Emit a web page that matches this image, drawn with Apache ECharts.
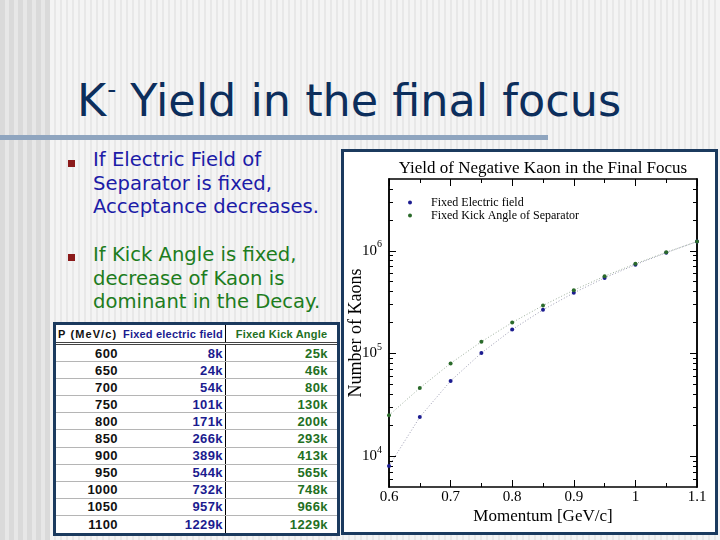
<!DOCTYPE html>
<html>
<head>
<meta charset="utf-8">
<script src="https://cdn.jsdelivr.net/npm/echarts@6.0.0/dist/echarts.min.js"></script>
<style>
html,body{margin:0;padding:0;}
body{width:720px;height:540px;position:relative;overflow:hidden;
  background:repeating-linear-gradient(90deg,#e8e8e8 0px,#e8e8e8 2px,#f4f4f4 2px,#f4f4f4 6px);
  font-family:'DejaVu Sans',Verdana,sans-serif;}
#leftband{position:absolute;left:0;top:0;width:50px;height:540px;
  background:repeating-linear-gradient(90deg,#dadada 0px,#dadada 5px,#e7e7e7 5px,#e7e7e7 9px);}
#title{position:absolute;left:77px;top:79px;font-size:44.5px;line-height:44px;color:#0c2e5c;white-space:nowrap;}
#title .sup{font-size:25px;position:relative;top:-18px;margin-left:1px;}
#bar{position:absolute;left:0;top:135px;width:548px;height:5px;background:#8fa5bf;}
.bullet{position:absolute;left:93px;font-size:19.6px;line-height:23.5px;white-space:nowrap;}
.sq{position:absolute;left:68px;width:7px;height:7px;background:#8b1a1a;}
#panel{position:absolute;left:341px;top:149px;width:377px;height:386px;box-sizing:border-box;border:3px solid #1b3a5e;background:#fff;}
#chart{position:absolute;left:344px;top:152px;width:371px;height:380px;}
#tbl{position:absolute;left:53px;top:322px;width:287px;box-sizing:border-box;border:3px solid #1b3a5e;background:#fff;
  font-family:'Liberation Sans',Arial,sans-serif;font-weight:bold;}
.row{position:relative;height:17.1px;box-sizing:border-box;border-bottom:1px solid #b5b5b5;font-size:13px;letter-spacing:0.4px;}
.row:last-child{border-bottom:none;}
.row.head{height:20px;border-bottom:3px double #444;font-size:11px;}
.cell{position:absolute;top:0;height:100%;box-sizing:border-box;display:flex;align-items:center;white-space:nowrap;}
.c1{left:0;width:66px;justify-content:flex-end;padding-right:4px;color:#111;}
.c2{left:66px;width:104px;justify-content:flex-end;padding-right:2px;border-right:1px solid #000;color:#1b1b8f;}
.c3{left:170px;width:111px;justify-content:flex-end;padding-right:9px;color:#237023;}
.head .c1{justify-content:flex-start;padding-left:2px;letter-spacing:1.1px;}
.head .c2{letter-spacing:0.2px;}
.head .c3{justify-content:center;padding-right:0;letter-spacing:0.2px;}
</style>
</head>
<body>
<div id="leftband"></div>
<div id="title">K<span class="sup">-</span> Yield in the final focus</div>
<div id="bar"></div>
<div class="sq" style="top:160px"></div>
<div class="bullet" style="top:148px;color:#1c1ca8">If Electric Field of<br>Separator is fixed,<br>Acceptance decreases.</div>
<div class="sq" style="top:254px"></div>
<div class="bullet" style="top:243px;color:#1d7d1d">If Kick Angle is fixed,<br>decrease of Kaon is<br>dominant in the Decay.</div>
<div id="tbl"></div>
<div id="panel"></div>
<div id="chart"></div>
<script>
// ---------------- data ----------------
const momentumGeV = [0.6, 0.65, 0.7, 0.75, 0.8, 0.85, 0.9, 0.95, 1.0, 1.05, 1.1];
const momentumMeVLabels = ['600','650','700','750','800','850','900','950','1000','1050','1100'];
const fixedElectricK = [8, 24, 54, 101, 171, 266, 389, 544, 732, 957, 1229];
const fixedKickK = [25, 46, 80, 130, 200, 293, 413, 565, 748, 966, 1229];
const tableHeaders = ['P (MeV/c)', 'Fixed electric field', 'Fixed Kick Angle'];
const seriesNames = ['Fixed Electric field', 'Fixed Kick Angle of Separator'];
const yMajorTicks = [10000, 100000, 1000000];
const yMajorExponents = ['4', '5', '6'];
const yMinorTicks = [6000, 7000, 8000, 9000,
  20000, 30000, 40000, 50000, 60000, 70000, 80000, 90000,
  200000, 300000, 400000, 500000, 600000, 700000, 800000, 900000,
  2000000, 3000000, 4000000];
const yMin = 5000, yMax = 5000000;
const xMin = 0.6, xMax = 1.1, xStep = 0.1;

// ---------------- table ----------------
const tbl = document.getElementById('tbl');
function addRow(vals, cls) {
  const r = document.createElement('div');
  r.className = 'row' + (cls ? ' ' + cls : '');
  vals.forEach((v, i) => {
    const c = document.createElement('div');
    c.className = 'cell c' + (i + 1);
    c.textContent = v;
    r.appendChild(c);
  });
  tbl.appendChild(r);
}
addRow(tableHeaders, 'head');
momentumMeVLabels.forEach((m, i) => addRow([m, fixedElectricK[i] + 'k', fixedKickK[i] + 'k']));

// ---------------- chart ----------------
const serif = "'Liberation Serif','Times New Roman',serif";
const chart = echarts.init(document.getElementById('chart'));
const axisLine = {show: true, onZero: false, lineStyle: {color: '#000', width: 1.5}};

function yAxisDef(position, ticks, len, withLabels) {
  const ax = {
    type: 'log', logBase: 10, min: yMin, max: yMax, position: position,
    axisLine: axisLine,
    axisTick: {show: true, inside: true, length: len, customValues: ticks, lineStyle: {color: '#000', width: 1}},
    axisLabel: {show: false},
    splitLine: {show: false}
  };
  if (withLabels) {
    ax.axisLabel = {
      show: true, margin: 7, customValues: yMajorTicks,
      formatter: function (v) {
        const e = Math.round(Math.log10(v));
        const idx = yMajorTicks.findIndex(t => Math.round(Math.log10(t)) === e);
        return '{b|10}{s|' + yMajorExponents[idx] + '}';
      },
      rich: {
        b: {fontFamily: serif, fontSize: 15, color: '#000', lineHeight: 22},
        s: {fontFamily: serif, fontSize: 10, color: '#000', lineHeight: 10, verticalAlign: 'top'}
      }
    };
    ax.name = 'Number of Kaons';
    ax.nameLocation = 'middle';
    ax.nameGap = 24;
    ax.nameMoveOverlap = false;
    ax.nameTextStyle = {fontFamily: serif, fontSize: 18, color: '#000'};
  }
  return ax;
}

function xAxisDef(position, withLabels) {
  const ax = {
    type: 'value', min: xMin, max: xMax, interval: xStep, position: position,
    axisLine: axisLine,
    axisTick: {show: true, inside: true, length: 7, lineStyle: {color: '#000', width: 1}},
    minorTick: {show: true, splitNumber: 2, length: 4, lineStyle: {color: '#000', width: 1}},
    axisLabel: {show: false},
    splitLine: {show: false}, minorSplitLine: {show: false}
  };
  if (withLabels) {
    ax.axisLabel = {show: true, margin: 3, fontFamily: serif, fontSize: 15, color: '#000'};
    ax.name = 'Momentum [GeV/c]';
    ax.nameLocation = 'middle';
    ax.nameGap = 21;
    ax.nameMoveOverlap = false;
    ax.nameTextStyle = {fontFamily: serif, fontSize: 17, color: '#000'};
  }
  return ax;
}

const electricData = momentumGeV.map((x, i) => [x, fixedElectricK[i] * 1000]);
const kickData = momentumGeV.map((x, i) => [x, fixedKickK[i] * 1000]);

chart.setOption({
  animation: false,
  backgroundColor: 'transparent',
  title: {
    text: 'Yield of Negative Kaon in the Final Focus',
    left: 194, top: 3, textAlign: 'center',
    textStyle: {fontFamily: serif, fontSize: 17, fontWeight: 'normal', color: '#000'}
  },
  legend: {
    data: seriesNames, orient: 'vertical', left: 59, top: 39,
    icon: 'circle', itemWidth: 24, itemHeight: 4, itemGap: 0,
    textStyle: {fontFamily: serif, fontSize: 12, color: '#000', lineHeight: 13, padding: [0, 0, 0, 4]}
  },
  grid: {left: 45, right: 18, top: 27, bottom: 45, containLabel: false, outerBoundsMode: 'none'},
  xAxis: [xAxisDef('bottom', true), xAxisDef('top', false)],
  yAxis: [
    yAxisDef('left', yMajorTicks, 7, true),
    yAxisDef('right', yMajorTicks, 7, false),
    yAxisDef('left', yMinorTicks, 4, false),
    yAxisDef('right', yMinorTicks, 4, false)
  ],
  series: [
    {
      name: seriesNames[0], type: 'line', xAxisIndex: 0, yAxisIndex: 0,
      data: electricData, symbol: 'circle', symbolSize: 4, showSymbol: true,
      itemStyle: {color: '#1c1c90'},
      lineStyle: {color: '#9a9ab0', width: 1, type: [1, 2]}
    },
    {
      name: seriesNames[1], type: 'line', xAxisIndex: 0, yAxisIndex: 0,
      data: kickData, symbol: 'circle', symbolSize: 4, showSymbol: true,
      itemStyle: {color: '#2a6a2a'},
      lineStyle: {color: '#9aac9a', width: 1, type: [1, 2]}
    }
  ]
});
</script>
</body>
</html>
